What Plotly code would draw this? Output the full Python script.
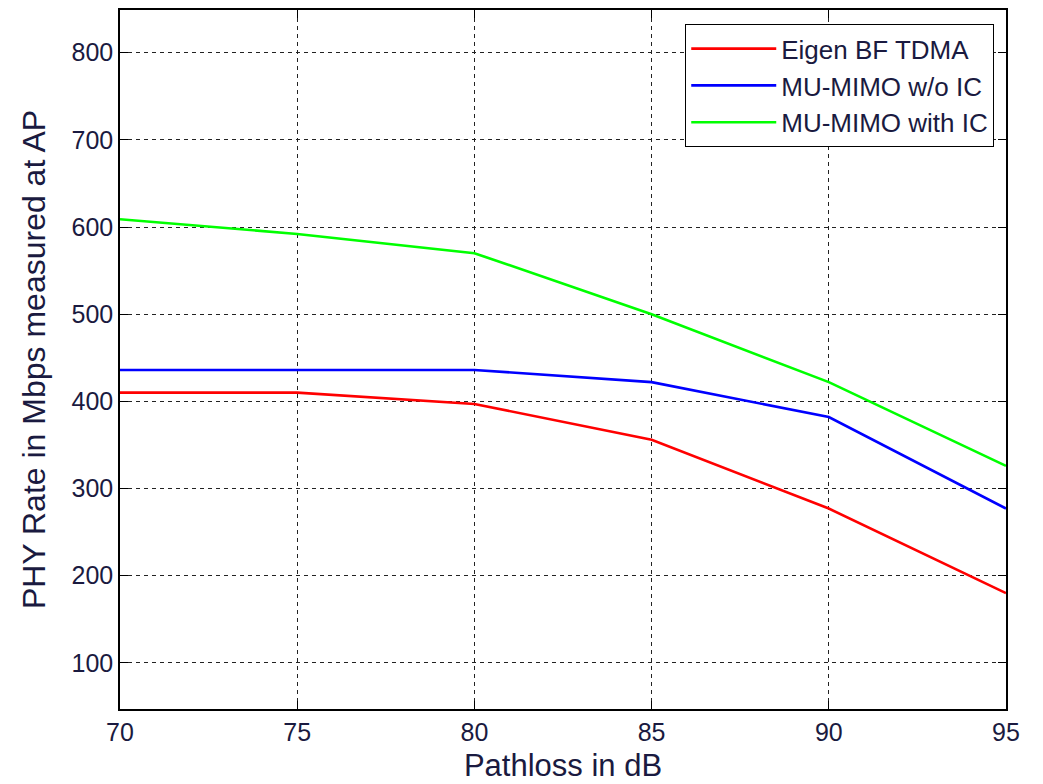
import plotly.graph_objects as go

pathloss = [70, 75, 80, 85, 90, 95]
eigen_bf_tdma = [410, 410, 397, 356, 277, 180]
mu_mimo_wo_ic = [436, 436, 436, 422, 382, 277]
mu_mimo_with_ic = [609, 592, 570, 500, 422, 326]

series = [
    ("Eigen BF TDMA", eigen_bf_tdma, "#ff0000"),
    ("MU-MIMO w/o IC", mu_mimo_wo_ic, "#0000ff"),
    ("MU-MIMO with IC", mu_mimo_with_ic, "#00ff00"),
]

x_ticks = [70, 75, 80, 85, 90, 95]
y_ticks = [100, 200, 300, 400, 500, 600, 700, 800]

fig = go.Figure()
for name, vals, color in series:
    fig.add_trace(go.Scatter(x=pathloss, y=vals, mode="lines", name=name,
                             line=dict(color=color, width=2.6)))

font_family = "Liberation Sans, Arial, sans-serif"
axis_common = dict(
    showline=True, linecolor="black", linewidth=1.5, mirror="ticks",
    ticks="inside", ticklen=8, tickcolor="black", tickwidth=1.2,
    showgrid=True, gridcolor="#222222", gridwidth=1.2, griddash="4px,4px",
    zeroline=False,
    tickfont=dict(family=font_family, size=25, color="#1a1a40"),
)

fig.update_xaxes(range=[70, 95], tickvals=x_ticks, ticktext=[str(v) for v in x_ticks],
                 title=dict(text="Pathloss in dB", font=dict(family=font_family, size=31, color="#1a1a40"), standoff=10),
                 **axis_common)
fig.update_yaxes(range=[47, 849], tickvals=y_ticks, ticktext=[str(v) for v in y_ticks],
                 title=dict(text="PHY Rate in Mbps measured at AP", font=dict(family=font_family, size=32, color="#1a1a40"), standoff=16),
                 **axis_common)

fig.update_layout(
    width=1043, height=784,
    margin=dict(l=120, r=37, t=10, b=75, autoexpand=False),
    plot_bgcolor="white", paper_bgcolor="white",
    showlegend=True,
    legend=dict(x=0.9865, y=0.98, xanchor="right", yanchor="top",
                bgcolor="white", bordercolor="black", borderwidth=1.2,
                font=dict(family=font_family, size=26, color="#1a1a40"),
                itemwidth=85, tracegroupgap=0),
)

fig.write_html("out.html")
